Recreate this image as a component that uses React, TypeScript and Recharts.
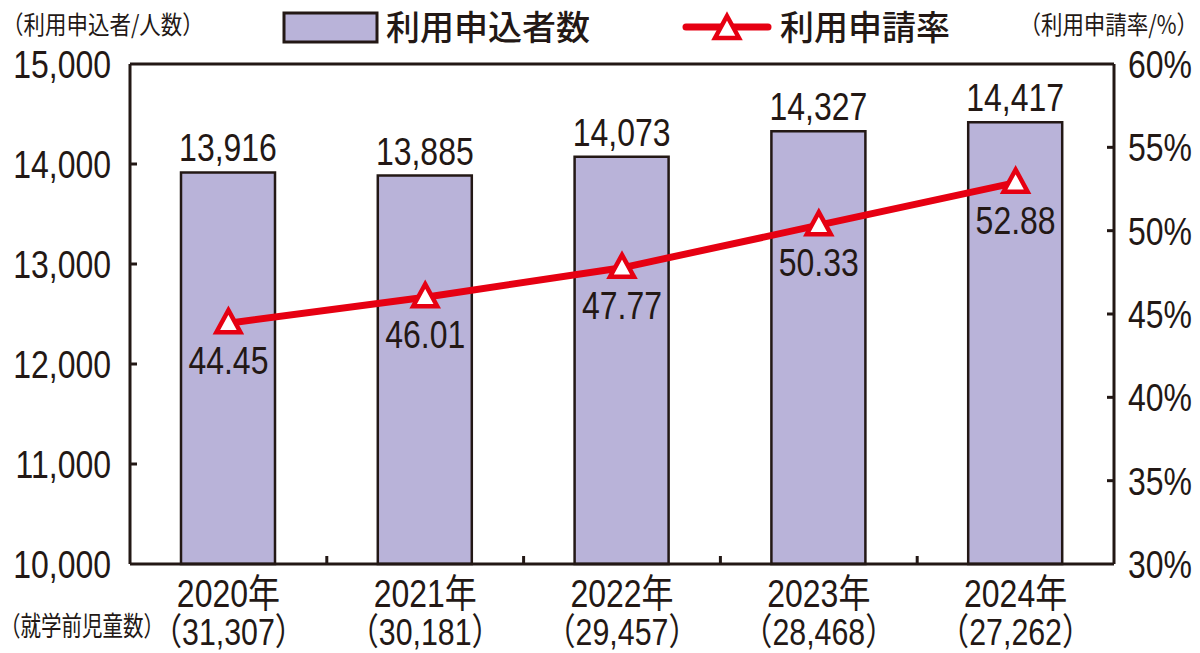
import React from 'react';
import { ComposedChart, Bar, Line, XAxis, YAxis, ReferenceLine } from 'recharts';

// data
const years = ['2020年', '2021年', '2022年', '2023年', '2024年'];
const preschoolChildren = [31307, 30181, 29457, 28468, 27262];
const applicants = [13916, 13885, 14073, 14327, 14417];
const applicationRate = [44.45, 46.01, 47.77, 50.33, 52.88];

const leftTicks = [10000, 11000, 12000, 13000, 14000, 15000];
const rightTicks = [30, 35, 40, 45, 50, 55, 60];

const data = years.map((year, i) => ({
  year,
  children: preschoolChildren[i],
  applicants: applicants[i],
  rate: applicationRate[i],
}));

const W = 1200;
const H = 653;
const LEFT_W = 130;
const RIGHT_W = 86;
const TOP = 64;
const X_H = 89;
const HALF_BAND = (W - LEFT_W - RIGHT_W) / years.length / 2;

const INK = '#231815';
const RED = '#e60012';
const LAVENDER = '#b9b3d9';
const FONT = '"Liberation Sans", Arimo, "Noto Sans CJK JP", sans-serif';
const CJK = '"Noto Sans CJK JP", sans-serif';
const NARROW = 0.82;

const fmt = (n: number) => n.toLocaleString('en-US');

// condensed text (the reference uses a narrow face)
const CText = ({ x, y, size, anchor = 'start', sx = NARROW, family = FONT, weight = 400, fill = INK, children }: any) => (
  <text
    transform={`translate(${x},${y}) scale(${sx},1)`}
    textAnchor={anchor}
    fontSize={size}
    fontFamily={family}
    fontWeight={weight}
    fill={fill}
  >
    {children}
  </text>
);

const LeftTick = (props: any) => {
  const { x, y, payload } = props;
  const v = payload.value;
  return (
    <g>
      {v !== 10000 && v !== 15000 && <line x1={x} x2={x + 7} y1={y} y2={y} stroke={INK} strokeWidth={3} />}
      <CText x={x - 19} y={y + 14} size={39} anchor="end">{fmt(v)}</CText>
    </g>
  );
};

const RightTick = (props: any) => {
  const { x, y, payload } = props;
  const v = payload.value;
  return (
    <g>
      {v !== 30 && v !== 60 && <line x1={x} x2={x - 7} y1={y} y2={y} stroke={INK} strokeWidth={3} />}
      <CText x={x + 14} y={y + 14} size={39}>{v}%</CText>
    </g>
  );
};

const XTick = (props: any) => {
  const { x, y, payload, index } = props;
  return (
    <g>
      {index < years.length - 1 && (
        <line x1={x + HALF_BAND} x2={x + HALF_BAND} y1={y} y2={y - 8} stroke={INK} strokeWidth={3} />
      )}
      <CText x={x} y={y + 43} size={39} anchor="middle">{payload.value}</CText>
      <CText x={x} y={y + 81} size={37} anchor="middle">（{fmt(preschoolChildren[index])}）</CText>
    </g>
  );
};

const barLabel = (props: any) => {
  const { x, y, width, value } = props;
  return <CText x={x + width / 2} y={y - 11} size={39} anchor="middle">{fmt(value)}</CText>;
};

const rateLabel = (props: any) => {
  const { x, y, value } = props;
  return <CText x={x} y={y + 51} size={39} anchor="middle">{value.toFixed(2)}</CText>;
};

const triangle = (cx: number, cy: number) =>
  `M${cx},${cy - 13} L${cx + 12},${cy + 9} L${cx - 12},${cy + 9} Z`;

const rateDot = (props: any) => {
  const { cx, cy, index } = props;
  return <path key={`dot-${index}`} d={triangle(cx, cy)} fill="#fff" stroke={RED} strokeWidth={4.5} />;
};

export default function App() {
  return (
    <div style={{ position: 'relative', width: W, height: H, background: '#fff' }}>
      <style>{'body{margin:0}'}</style>

      <ComposedChart
        width={W}
        height={H}
        data={data}
        margin={{ top: TOP, right: 0, bottom: 0, left: 0 }}
        style={{ position: 'absolute', left: 0, top: 0 }}
      >
        <XAxis
          dataKey="year"
          height={X_H}
          tickLine={false}
          tickSize={0}
          tickMargin={0}
          axisLine={{ stroke: INK, strokeWidth: 3 }}
          tick={<XTick />}
          interval={0}
        />
        <YAxis
          yAxisId="left"
          orientation="left"
          width={LEFT_W}
          domain={[10000, 15000]}
          ticks={leftTicks}
          tickLine={false}
          tickSize={0}
          tickMargin={0}
          axisLine={{ stroke: INK, strokeWidth: 3 }}
          tick={<LeftTick />}
          interval={0}
        />
        <YAxis
          yAxisId="right"
          orientation="right"
          width={RIGHT_W}
          domain={[30, 60]}
          ticks={rightTicks}
          tickLine={false}
          tickSize={0}
          tickMargin={0}
          axisLine={{ stroke: INK, strokeWidth: 3 }}
          tick={<RightTick />}
          interval={0}
        />
        <ReferenceLine yAxisId="left" y={15000} stroke={INK} strokeWidth={3} />
        <Bar
          yAxisId="left"
          dataKey="applicants"
          barSize={94}
          fill={LAVENDER}
          stroke={INK}
          strokeWidth={2.5}
          label={barLabel}
          isAnimationActive={false}
        />
        <Line
          yAxisId="right"
          dataKey="rate"
          stroke={RED}
          strokeWidth={7}
          dot={rateDot}
          activeDot={false}
          label={rateLabel}
          isAnimationActive={false}
        />
      </ComposedChart>

      {/* captions and legend */}
      <svg width={W} height={H} style={{ position: 'absolute', left: 0, top: 0, pointerEvents: 'none' }}>
        <CText x={2} y={34} size={25} family={CJK} sx={0.86}>（利用申込者/人数）</CText>
        <CText x={1198} y={34} size={25} family={CJK} sx={0.86} anchor="end">（利用申請率/%）</CText>
        <CText x={0} y={636} size={27} family={CJK} sx={0.76}>（就学前児童数）</CText>

        <rect x={284} y={13} width={93} height={29} fill={LAVENDER} stroke={INK} strokeWidth={3} />
        <text x={386} y={40} fontSize={34} fontWeight={500} fill={INK} fontFamily={CJK}>利用申込者数</text>
        <line x1={686} x2={768} y1={27} y2={27} stroke={RED} strokeWidth={7} strokeLinecap="round" />
        <path d={triangle(727, 29)} fill="#fff" stroke={RED} strokeWidth={4.5} />
        <text x={780} y={40} fontSize={34} fontWeight={500} fill={INK} fontFamily={CJK}>利用申請率</text>
      </svg>
    </div>
  );
}
